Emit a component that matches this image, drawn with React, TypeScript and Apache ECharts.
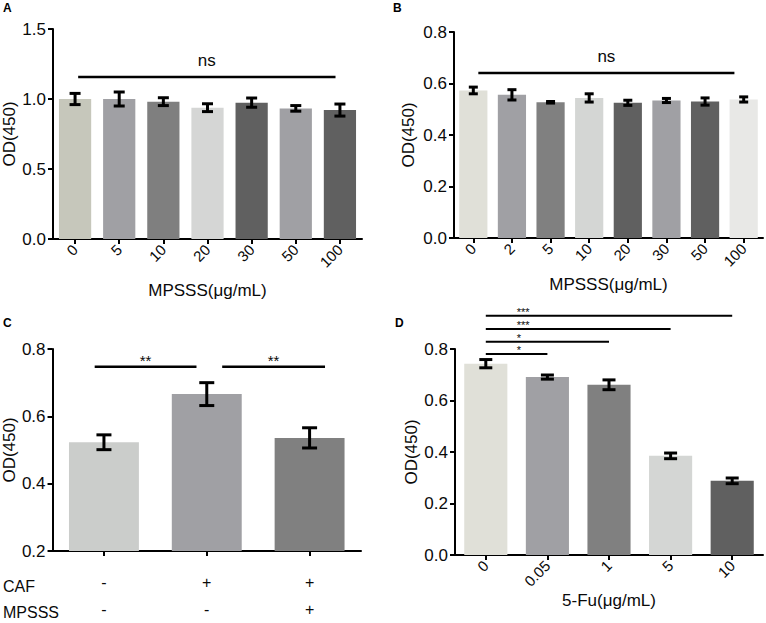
import React, { useEffect, useRef } from "react";
import * as echarts from "echarts";

const FONT = "'Liberation Sans', Arial, sans-serif";

// Panel A
const catsA = ["0", "5", "10", "20", "30", "50", "100"];
const valsA = [1.0, 1.0, 0.981, 0.938, 0.974, 0.933, 0.921];
const errA = [0.04, 0.05, 0.028, 0.028, 0.033, 0.02, 0.043];
const colorsA = ["#c6c7bb", "#a0a0a4", "#7f7f7f", "#d5d6d5", "#606060", "#a0a0a4", "#606060"];
const sigA = [[0.07, 5.9, 1.157]];
const sigLabelsA = ["ns"];

// Panel B
const catsB = ["0", "2", "5", "10", "20", "30", "50", "100"];
const valsB = [0.573, 0.556, 0.527, 0.544, 0.525, 0.534, 0.53, 0.538];
const errB = [0.013, 0.02, 0.003, 0.016, 0.01, 0.008, 0.014, 0.01];
const colorsB = ["#e0e0d8", "#a0a0a4", "#808080", "#d4d6d4", "#606060", "#a0a0a4", "#606060", "#e8e8e6"];
const sigB = [[0.13, 6.76, 0.641]];
const sigLabelsB = ["ns"];

// Panel C
const cafRow = ["-", "+", "+"];
const mpsssRow = ["-", "-", "+"];
const valsC = [0.523, 0.666, 0.536];
const errC = [0.022, 0.034, 0.03];
const colorsC = ["#cbcdcb", "#a0a0a4", "#808080"];
const sigC = [[-0.09, 0.9, 0.747], [1.15, 2.15, 0.747]];
const sigLabelsC = ["**", "**"];

// Panel D
const catsD = ["0", "0.05", "1", "5", "10"];
const valsD = [0.743, 0.691, 0.661, 0.385, 0.288];
const errD = [0.016, 0.008, 0.019, 0.011, 0.011];
const colorsD = ["#e0e0d8", "#a0a0a4", "#808080", "#d4d6d4", "#606060"];
const sigD = [[0, 4, 0.929], [0, 3, 0.878], [0, 2, 0.828], [0, 1, 0.781]];
const sigLabelsD = ["***", "***", "*", "*"];

const TXT = "#0a0a0a";

function yAxis(gi: number, min: number, max: number, interval: number, nameGap: number) {
  return {
    type: "value",
    gridIndex: gi,
    min,
    max,
    interval,
    name: "OD(450)",
    nameLocation: "middle",
    nameGap,
    nameTextStyle: { fontSize: 17, color: TXT, fontFamily: FONT },
    axisLine: { show: true, lineStyle: { color: "#000", width: 2 } },
    axisTick: { show: true, length: 5, lineStyle: { color: "#000", width: 2 } },
    splitLine: { show: false },
    axisLabel: {
      fontSize: 17,
      color: TXT,
      fontFamily: FONT,
      margin: 7,
      formatter: (v: number) => v.toFixed(1),
    },
  };
}

function xAxis(gi: number, data: string[], name: string, nameGap: number, extra: any = {}) {
  return {
    type: "category",
    gridIndex: gi,
    data,
    name,
    nameLocation: "middle",
    nameGap,
    nameTextStyle: { fontSize: 17, color: TXT, fontFamily: FONT },
    axisLine: { show: true, lineStyle: { color: "#000", width: 2 } },
    axisTick: { show: true, alignWithLabel: true, length: 5, lineStyle: { color: "#000", width: 2 } },
    axisLabel: { rotate: 45, fontSize: 15, color: TXT, fontFamily: FONT, margin: 8, interval: 0 },
    ...extra,
  };
}

function barSeries(gi: number, vals: number[], colors: string[], barWidth: string) {
  return {
    type: "bar",
    xAxisIndex: gi,
    yAxisIndex: gi,
    barWidth,
    data: vals.map((v, i) => ({ value: v, itemStyle: { color: colors[i] } })),
  };
}

function errSeries(gi: number, vals: number[], errs: number[], cap: number) {
  return {
    type: "custom",
    xAxisIndex: gi,
    yAxisIndex: gi,
    clip: false,
    z: 10,
    encode: { x: 0, y: [1, 2] },
    data: vals.map((v, i) => [i, v - errs[i], v + errs[i]]),
    renderItem: (params: any, api: any) => {
      const x = api.value(0);
      const lo = api.coord([x, api.value(1)]);
      const hi = api.coord([x, api.value(2)]);
      const hw = cap / 2;
      const st = { stroke: "#000", lineWidth: 3 };
      return {
        type: "group",
        children: [
          { type: "line", shape: { x1: lo[0], y1: lo[1], x2: hi[0], y2: hi[1] }, style: st },
          { type: "line", shape: { x1: lo[0] - hw, y1: lo[1], x2: lo[0] + hw, y2: lo[1] }, style: st },
          { type: "line", shape: { x1: hi[0] - hw, y1: hi[1], x2: hi[0] + hw, y2: hi[1] }, style: st },
        ],
      };
    },
  };
}

function sigSeries(
  gi: number,
  sig: number[][],
  labels: string[],
  fontSize: number,
  lineHeight: number,
  lineWidth: number,
  textMode: "center" | "left",
  textDy: number,
  vAlign: "top" | "bottom"
) {
  return {
    type: "custom",
    xAxisIndex: gi,
    yAxisIndex: gi,
    clip: false,
    z: 10,
    encode: { x: 0, y: 1 },
    data: sig.map((s) => [0, s[2]]),
    renderItem: (params: any, api: any) => {
      const s = sig[params.dataIndex];
      const p0 = api.coord([0, s[2]]);
      const p1 = api.coord([1, s[2]]);
      const step = p1[0] - p0[0];
      const xa = p0[0] + s[0] * step;
      const xb = p0[0] + s[1] * step;
      const y = p0[1];
      const tx = textMode === "center" ? (xa + xb) / 2 : xa + 31;
      return {
        type: "group",
        children: [
          { type: "line", shape: { x1: xa, y1: y, x2: xb, y2: y }, style: { stroke: "#000", lineWidth } },
          {
            type: "text",
            x: tx,
            y: y + textDy,
            style: {
              text: labels[params.dataIndex],
              fill: TXT,
              fontSize,
              lineHeight,
              fontFamily: FONT,
              align: textMode,
              verticalAlign: vAlign,
            },
          },
        ],
      };
    },
  };
}

export default function App() {
  const ref = useRef<HTMLDivElement>(null);
  useEffect(() => {
    if (!ref.current) return;
    const chart = echarts.init(ref.current, undefined, { renderer: "svg" });
    const catsC = cafRow.map((c, i) => `${c}\n${mpsssRow[i]}`);
    chart.setOption({
      animation: false,
      backgroundColor: "#fff",
      textStyle: { fontFamily: FONT },
      grid: [
        { left: 53, top: 29, width: 309, height: 210 },
        { left: 454, top: 32, width: 309, height: 206 },
        { left: 52, top: 349, width: 309, height: 207 },
        { left: 455, top: 349, width: 308, height: 206 },
      ],
      xAxis: [
        xAxis(0, catsA, "MPSSS(μg/mL)", 43),
        xAxis(1, catsB, "MPSSS(μg/mL)", 38),
        xAxis(2, catsC, "", 30, {
          axisLabel: { rotate: 0, fontSize: 16, color: TXT, fontFamily: FONT, margin: 18, lineHeight: 27, interval: 0 },
        }),
        xAxis(3, catsD, "5-Fu(μg/mL)", 37),
      ],
      yAxis: [
        yAxis(0, 0, 1.5, 0.5, 35),
        yAxis(1, 0, 0.8, 0.2, 37),
        yAxis(2, 0.2, 0.8, 0.2, 33),
        yAxis(3, 0, 0.8, 0.2, 31),
      ],
      series: [
        barSeries(0, valsA, colorsA, "73%"),
        errSeries(0, valsA, errA, 11),
        sigSeries(0, sigA, sigLabelsA, 17, 17, 2.5, "center", -8, "bottom"),
        barSeries(1, valsB, colorsB, "73%"),
        errSeries(1, valsB, errB, 9),
        sigSeries(1, sigB, sigLabelsB, 17, 17, 2.5, "center", -8, "bottom"),
        barSeries(2, valsC, colorsC, "68%"),
        errSeries(2, valsC, errC, 15),
        sigSeries(2, sigC, sigLabelsC, 15, 15, 2.5, "center", -14, "top"),
        barSeries(3, valsD, colorsD, "70%"),
        errSeries(3, valsD, errD, 13),
        sigSeries(3, sigD, sigLabelsD, 11, 11, 2, "left", -9, "top"),
      ],
      graphic: [
        { type: "text", left: 3, top: 2, style: { text: "A", fontSize: 12, fontWeight: "bold", fill: "#000", fontFamily: FONT } },
        { type: "text", left: 393, top: 2, style: { text: "B", fontSize: 12, fontWeight: "bold", fill: "#000", fontFamily: FONT } },
        { type: "text", left: 3, top: 317, style: { text: "C", fontSize: 12, fontWeight: "bold", fill: "#000", fontFamily: FONT } },
        { type: "text", left: 395, top: 317, style: { text: "D", fontSize: 12, fontWeight: "bold", fill: "#000", fontFamily: FONT } },
        { type: "text", left: 3, top: 578, style: { text: "CAF", fontSize: 16, fill: TXT, fontFamily: FONT } },
        { type: "text", left: 3, top: 604, style: { text: "MPSSS", fontSize: 16, fill: TXT, fontFamily: FONT } },
      ],
    });
    return () => chart.dispose();
  }, []);
  return <div ref={ref} style={{ position: "fixed", left: 0, top: 0, width: 766, height: 623 }} />;
}
